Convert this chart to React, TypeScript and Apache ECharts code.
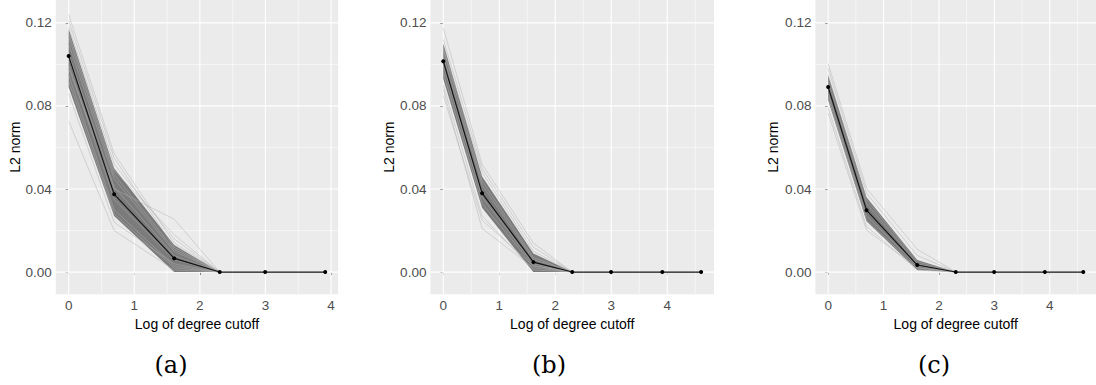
import React, { useEffect, useRef } from "react";
import * as echarts from "echarts";

// x positions: log of degree cutoff (log 1, 2, 5, 10, 20, 50, 100)
const LOG_X_A = [0, 0.693, 1.609, 2.303, 2.996, 3.912];
const LOG_X_BC = [0, 0.693, 1.609, 2.303, 2.996, 3.912, 4.605];
const SAMPLE_X = [0, 0.693, 1.609, 2.303];

const X_TICKS = [0, 1, 2, 3, 4];
const Y_TICKS = [0, 0.04, 0.08, 0.12];
const X_MINOR = [0.5, 1.5, 2.5, 3.5, 4.5];
const Y_MINOR = [0.02, 0.06, 0.1];

// mean curves
const MEAN_A = [0.104, 0.0375, 0.0066, 0, 0, 0];
const MEAN_B = [0.1015, 0.038, 0.0048, 0, 0, 0, 0];
const MEAN_C = [0.0891, 0.0298, 0.0034, 0, 0, 0, 0];

// dark bands (at x = 0, 0.693, 1.609, 2.303)
const BAND_A_UPPER = [0.117, 0.05, 0.013, 0];
const BAND_A_LOWER = [0.089, 0.027, 0, 0];
const BAND_B_UPPER = [0.11, 0.046, 0.009, 0];
const BAND_B_LOWER = [0.093, 0.031, 0, 0];
const BAND_C_UPPER = [0.0947, 0.036, 0.0058, 0];
const BAND_C_LOWER = [0.0827, 0.0245, 0.001, 0];

// individual sample curves (at x = 0, 0.693, 1.609, 2.303)
const SAMPLES_A = [
  [0.124, 0.057, 0.014, 0],
  [0.121, 0.055, 0.012, 0],
  [0.118, 0.052, 0.016, 0],
  [0.115, 0.049, 0.018, 0],
  [0.0728, 0.02, 0.001, 0],
  [0.086, 0.024, 0.004, 0],
  [0.098, 0.04, 0.0255, 0],
  [0.11, 0.045, 0.01, 0],
  [0.1, 0.035, 0.006, 0],
  [0.095, 0.03, 0.003, 0],
  [0.105, 0.041, 0.008, 0],
  [0.092, 0.028, 0.002, 0],
  [0.113, 0.047, 0.011, 0],
];
const SAMPLES_B = [
  [0.1175, 0.052, 0.014, 0],
  [0.112, 0.05, 0.012, 0],
  [0.088, 0.021, 0.002, 0],
  [0.085, 0.025, 0.003, 0],
  [0.09, 0.027, 0.001, 0],
  [0.108, 0.048, 0.01, 0],
  [0.1, 0.036, 0.004, 0],
  [0.104, 0.042, 0.006, 0],
  [0.096, 0.033, 0.003, 0],
  [0.107, 0.044, 0.007, 0],
];
const SAMPLES_C = [
  [0.1004, 0.0403, 0.011, 0],
  [0.098, 0.038, 0.008, 0],
  [0.0765, 0.0202, 0.002, 0],
  [0.079, 0.022, 0.001, 0],
  [0.092, 0.033, 0.004, 0],
  [0.086, 0.027, 0.003, 0],
  [0.095, 0.035, 0.005, 0],
  [0.084, 0.025, 0.002, 0],
];

const PANEL_LABELS = ["(a)", "(b)", "(c)"];
const X_TITLE = "Log of degree cutoff";
const Y_TITLE = "L2 norm";

const Y_MIN = -0.0107;
const Y_MAX = 0.131;

const LABEL_FONT = "Liberation Sans";

export default function App() {
  const ref = useRef<HTMLDivElement>(null);

  useEffect(() => {
    if (!ref.current) return;
    const chart = echarts.init(ref.current, null, { renderer: "svg" });

    const panels = [
      { xs: LOG_X_A, mean: MEAN_A, up: BAND_A_UPPER, lo: BAND_A_LOWER, samples: SAMPLES_A, xmin: -0.196, xmax: 4.108, left: 55.8, width: 282.3, yGap: 34, cx: 171 },
      { xs: LOG_X_BC, mean: MEAN_B, up: BAND_B_UPPER, lo: BAND_B_LOWER, samples: SAMPLES_B, xmin: -0.23, xmax: 4.835, left: 430.4, width: 283.6, yGap: 27, cx: 549 },
      { xs: LOG_X_BC, mean: MEAN_C, up: BAND_C_UPPER, lo: BAND_C_LOWER, samples: SAMPLES_C, xmin: -0.23, xmax: 4.835, left: 815.4, width: 283.6, yGap: 35, cx: 934 },
    ];

    const grid: any[] = [];
    const xAxis: any[] = [];
    const yAxis: any[] = [];
    const series: any[] = [];

    panels.forEach((p, i) => {
      grid.push({
        left: p.left,
        top: 0,
        width: p.width,
        height: 294.3,
        show: true,
        backgroundColor: "#ebebeb",
        borderWidth: 0,
      });
      xAxis.push({
        type: "value",
        gridIndex: i,
        min: p.xmin,
        max: p.xmax,
        name: X_TITLE,
        nameLocation: "middle",
        nameGap: 19,
        nameTextStyle: { fontFamily: LABEL_FONT, fontSize: 14, color: "#000" },
        axisLine: { show: false },
        splitLine: { show: false },
        axisTick: { show: true, customValues: X_TICKS, length: 3, lineStyle: { color: "#333", width: 1 } },
        axisLabel: {
          customValues: X_TICKS,
          margin: 4,
          fontFamily: LABEL_FONT,
          fontSize: 13.5,
          color: "#4d4d4d",
          formatter: (v: number) => String(v),
        },
      });
      yAxis.push({
        type: "value",
        gridIndex: i,
        min: Y_MIN,
        max: Y_MAX,
        name: Y_TITLE,
        nameLocation: "middle",
        nameGap: p.yGap,
        nameRotate: 90,
        nameTextStyle: { fontFamily: LABEL_FONT, fontSize: 14, color: "#000" },
        axisLine: { show: false },
        splitLine: { show: false },
        axisTick: { show: true, customValues: Y_TICKS, length: 3, lineStyle: { color: "#333", width: 1 } },
        axisLabel: {
          customValues: Y_TICKS,
          margin: 4,
          fontFamily: LABEL_FONT,
          fontSize: 13.5,
          color: "#4d4d4d",
          formatter: (v: number) => v.toFixed(2),
        },
      });

      // gridlines
      series.push({
        type: "custom",
        xAxisIndex: i,
        yAxisIndex: i,
        z: 1,
        silent: true,
        data: [[0, 0]],
        renderItem: (_params: any, api: any) => {
          const children: any[] = [];
          const vline = (xv: number, w: number) => {
            const a = api.coord([xv, Y_MIN]);
            const b = api.coord([xv, Y_MAX]);
            children.push({ type: "line", shape: { x1: a[0], y1: a[1], x2: b[0], y2: b[1] }, style: { stroke: "#ffffff", lineWidth: w } });
          };
          const hline = (yv: number, w: number) => {
            const a = api.coord([p.xmin, yv]);
            const b = api.coord([p.xmax, yv]);
            children.push({ type: "line", shape: { x1: a[0], y1: a[1], x2: b[0], y2: b[1] }, style: { stroke: "#ffffff", lineWidth: w } });
          };
          X_MINOR.filter((v) => v > p.xmin && v < p.xmax).forEach((v) => vline(v, 0.55));
          Y_MINOR.forEach((v) => hline(v, 0.55));
          X_TICKS.filter((v) => v > p.xmin && v < p.xmax).forEach((v) => vline(v, 1.1));
          Y_TICKS.forEach((v) => hline(v, 1.1));
          return { type: "group", children };
        },
      });

      // band
      series.push({
        type: "custom",
        xAxisIndex: i,
        yAxisIndex: i,
        z: 2,
        silent: true,
        data: [[0, 0]],
        renderItem: (_params: any, api: any) => {
          const pts: number[][] = [];
          for (let k = 0; k < SAMPLE_X.length; k++) pts.push(api.coord([SAMPLE_X[k], p.up[k]]));
          for (let k = SAMPLE_X.length - 1; k >= 0; k--) pts.push(api.coord([SAMPLE_X[k], p.lo[k]]));
          return { type: "polygon", shape: { points: pts }, style: { fill: "#7b7b7b" } };
        },
      });

      // sample curves
      p.samples.forEach((s) => {
        series.push({
          type: "line",
          xAxisIndex: i,
          yAxisIndex: i,
          z: 3,
          silent: true,
          symbol: "none",
          data: SAMPLE_X.map((x, k) => [x, s[k]]),
          lineStyle: { color: "#b0b0b0", width: 0.8, opacity: 0.6 },
        });
      });

      // mean curve
      series.push({
        type: "line",
        xAxisIndex: i,
        yAxisIndex: i,
        z: 4,
        silent: true,
        symbol: "circle",
        symbolSize: 4,
        data: p.xs.map((x, k) => [x, p.mean[k]]),
        lineStyle: { color: "#111", width: 1.1 },
        itemStyle: { color: "#000" },
      });
    });

    const graphic = panels.map((p, i) => ({
      type: "text",
      x: p.cx,
      y: 365,
      style: {
        text: PANEL_LABELS[i],
        font: '24px "DejaVu Serif"',
        fill: "#000",
        align: "center",
        verticalAlign: "middle",
      },
    }));

    chart.setOption({
      animation: false,
      backgroundColor: "#ffffff",
      grid,
      xAxis,
      yAxis,
      series,
      graphic,
    });

    return () => chart.dispose();
  }, []);

  return (
    <div
      ref={ref}
      style={{ position: "absolute", left: 0, top: 0, width: 1096, height: 385 }}
    />
  );
}
